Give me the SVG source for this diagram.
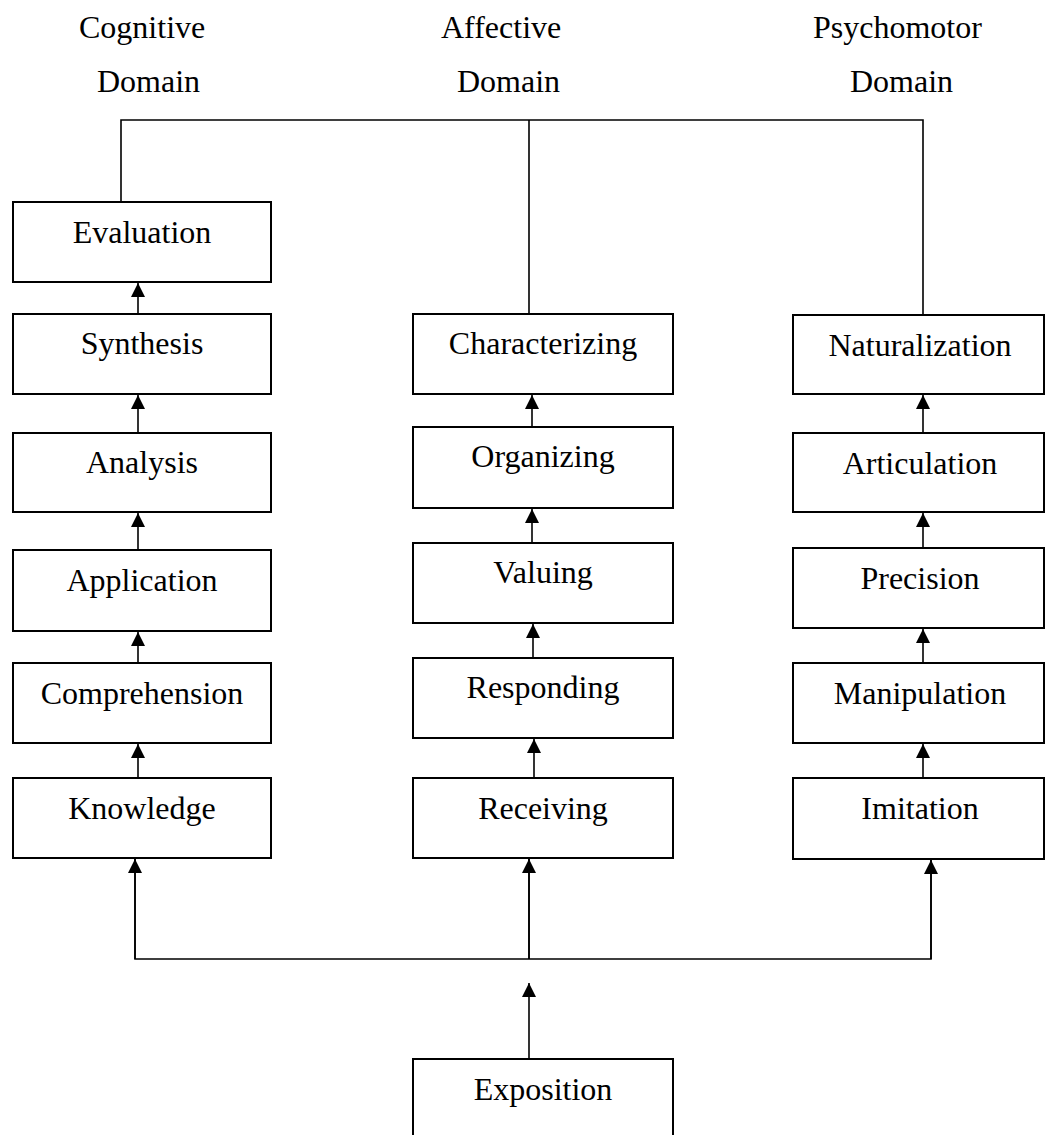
<svg xmlns="http://www.w3.org/2000/svg" width="1045" height="1135" viewBox="0 0 1045 1135">
<style>
.box{fill:#fff;stroke:#000;stroke-width:2}
.t{font-family:"Liberation Serif","Times New Roman",serif;font-size:32px;fill:#000}
.c{text-anchor:middle}
.ln{fill:none;stroke:#000;stroke-width:1.6}
</style>
<defs>
<marker id="ah" viewBox="0 0 14 14" refX="14" refY="7" markerWidth="14" markerHeight="14" markerUnits="userSpaceOnUse" orient="auto">
<path d="M0,0 L14,7 L0,14 Z" fill="#000"/>
</marker>
</defs>
<rect width="1045" height="1135" fill="#fff"/>
<g id="headers">
<text class="t" x="79" y="38">Cognitive</text>
<text class="t" x="97" y="92">Domain</text>
<text class="t" x="441" y="38">Affective</text>
<text class="t" x="457" y="92">Domain</text>
<text class="t" x="813" y="38">Psychomotor</text>
<text class="t" x="850" y="92">Domain</text>
</g>
<g id="connectors">
<path class="ln" d="M121,202 V120 H923 V315 M529,120 V314"/>
<path class="ln" d="M135,858 V959 H931 V859 M529,959 V858"/>
<line class="ln" x1="135" y1="959" x2="135" y2="859" marker-end="url(#ah)"/>
<line class="ln" x1="529" y1="959" x2="529" y2="859" marker-end="url(#ah)"/>
<line class="ln" x1="931" y1="959" x2="931" y2="860" marker-end="url(#ah)"/>
<line class="ln" x1="529" y1="1059" x2="529" y2="983" marker-end="url(#ah)"/>
<line class="ln" x1="138" y1="314" x2="138" y2="283" marker-end="url(#ah)"/>
<line class="ln" x1="138" y1="433" x2="138" y2="395" marker-end="url(#ah)"/>
<line class="ln" x1="138" y1="550" x2="138" y2="513" marker-end="url(#ah)"/>
<line class="ln" x1="138" y1="663" x2="138" y2="632" marker-end="url(#ah)"/>
<line class="ln" x1="138" y1="778" x2="138" y2="744" marker-end="url(#ah)"/>
<line class="ln" x1="532" y1="427" x2="532" y2="395" marker-end="url(#ah)"/>
<line class="ln" x1="532" y1="543" x2="532" y2="509" marker-end="url(#ah)"/>
<line class="ln" x1="533" y1="658" x2="533" y2="624" marker-end="url(#ah)"/>
<line class="ln" x1="534" y1="778" x2="534" y2="739" marker-end="url(#ah)"/>
<line class="ln" x1="923" y1="433" x2="923" y2="395" marker-end="url(#ah)"/>
<line class="ln" x1="923" y1="548" x2="923" y2="513" marker-end="url(#ah)"/>
<line class="ln" x1="923" y1="663" x2="923" y2="629" marker-end="url(#ah)"/>
<line class="ln" x1="923" y1="778" x2="923" y2="744" marker-end="url(#ah)"/>
</g>
<g id="evaluation"><rect class="box" x="13" y="202" width="258" height="80"/><text class="t c" x="142" y="243">Evaluation</text></g>
<g id="synthesis"><rect class="box" x="13" y="314" width="258" height="80"/><text class="t c" x="142" y="354">Synthesis</text></g>
<g id="analysis"><rect class="box" x="13" y="433" width="258" height="79"/><text class="t c" x="142" y="473">Analysis</text></g>
<g id="application"><rect class="box" x="13" y="550" width="258" height="81"/><text class="t c" x="142" y="591">Application</text></g>
<g id="comprehension"><rect class="box" x="13" y="663" width="258" height="80"/><text class="t c" x="142" y="704">Comprehension</text></g>
<g id="knowledge"><rect class="box" x="13" y="778" width="258" height="80"/><text class="t c" x="142" y="819">Knowledge</text></g>
<g id="characterizing"><rect class="box" x="413" y="314" width="260" height="80"/><text class="t c" x="543" y="354">Characterizing</text></g>
<g id="organizing"><rect class="box" x="413" y="427" width="260" height="81"/><text class="t c" x="543" y="467">Organizing</text></g>
<g id="valuing"><rect class="box" x="413" y="543" width="260" height="80"/><text class="t c" x="543" y="583">Valuing</text></g>
<g id="responding"><rect class="box" x="413" y="658" width="260" height="80"/><text class="t c" x="543" y="698">Responding</text></g>
<g id="receiving"><rect class="box" x="413" y="778" width="260" height="80"/><text class="t c" x="543" y="819">Receiving</text></g>
<g id="exposition"><rect class="box" x="413" y="1059" width="260" height="90"/><text class="t c" x="543" y="1100">Exposition</text></g>
<g id="naturalization"><rect class="box" x="793" y="315" width="251" height="79"/><text class="t c" x="920" y="356">Naturalization</text></g>
<g id="articulation"><rect class="box" x="793" y="433" width="251" height="79"/><text class="t c" x="920" y="474">Articulation</text></g>
<g id="precision"><rect class="box" x="793" y="548" width="251" height="80"/><text class="t c" x="920" y="589">Precision</text></g>
<g id="manipulation"><rect class="box" x="793" y="663" width="251" height="80"/><text class="t c" x="920" y="704">Manipulation</text></g>
<g id="imitation"><rect class="box" x="793" y="778" width="251" height="81"/><text class="t c" x="920" y="819">Imitation</text></g>
</svg>
